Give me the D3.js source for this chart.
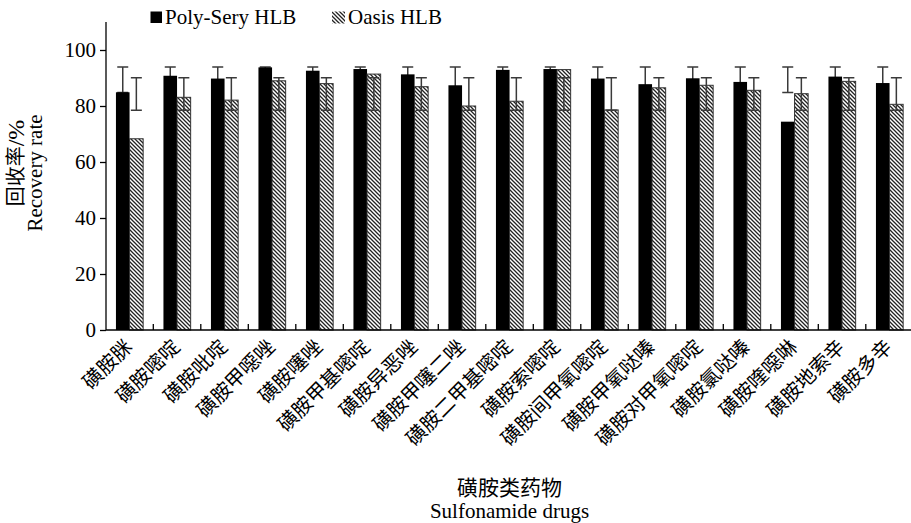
<!DOCTYPE html>
<html>
<head>
<meta charset="utf-8">
<script src="https://cdn.jsdelivr.net/npm/d3@7"></script>
<style>
  html, body { margin: 0; padding: 0; background: #fff; }
  svg { display: block; }
</style>
</head>
<body>
<svg id="chart" width="911" height="523"></svg>
<script>
// ---- data ----
const categories = ["磺胺脒","磺胺嘧啶","磺胺吡啶","磺胺甲噁唑","磺胺噻唑","磺胺甲基嘧啶","磺胺异恶唑","磺胺甲噻二唑","磺胺二甲基嘧啶","磺胺索嘧啶","磺胺间甲氧嘧啶","磺胺甲氧哒嗪","磺胺对甲氧嘧啶","磺胺氯哒嗪","磺胺喹噁啉","磺胺地索辛","磺胺多辛"];
const polySery = [84.9, 90.8, 89.8, 93.8, 92.6, 93.2, 91.3, 87.4, 92.9, 93.2, 89.8, 87.8, 89.9, 88.6, 74.4, 90.5, 88.2];
const oasis    = [68.3, 83.1, 82.1, 89.0, 88.0, 91.4, 86.9, 80.0, 81.7, 93.0, 78.6, 86.5, 87.4, 85.6, 84.4, 88.8, 80.6];
const polyErrLow  = [84.8, 84.8, 84.8, 84.8, 84.8, 84.8, 84.8, 84.8, 84.8, 84.8, 84.8, 84.8, 84.8, 84.8, 84.8, 84.8, 84.8];
const polyErrHigh = [93.9, 93.9, 93.9, 93.9, 93.9, 93.9, 93.9, 93.9, 93.9, 93.9, 93.9, 93.9, 93.9, 93.9, 93.9, 93.9, 93.9];
const oasisErrLow  = [78.5, 78.5, 78.5, 78.5, 78.5, 78.5, 78.5, 78.5, 78.5, 78.5, 78.5, 78.5, 78.5, 78.5, 78.5, 78.5, 78.5];
const oasisErrHigh = [90.1, 90.1, 90.1, 90.1, 90.1, 90.1, 90.1, 90.1, 90.1, 90.1, 90.1, 90.1, 90.1, 90.1, 90.1, 90.1, 90.1];
const yTicks = [0, 20, 40, 60, 80, 100];
const seriesNames = ["Poly-Sery HLB", "Oasis HLB"];

// ---- layout ----
const svg = d3.select("#chart");
const serif = "'Liberation Serif', 'Times New Roman', serif";
const cjk = "'Liberation Serif', 'Noto Sans CJK SC', serif";

const x = d3.scaleBand().domain(categories).range([105.8, 913.3]).padding(0);
const y = d3.scaleLinear().domain([0, 110]).range([330, 22]);
const barW = 13.6;

svg.append("rect").attr("width", 911).attr("height", 523).attr("fill", "#fff");

const defs = svg.append("defs");
const pat = defs.append("pattern").attr("id", "hatch")
  .attr("patternUnits", "userSpaceOnUse").attr("width", 4).attr("height", 4);
pat.append("rect").attr("width", 4).attr("height", 4).attr("fill", "#fff");
pat.append("path").attr("d", "M-1,-1 L5,5 M-1,3 L1,5 M3,-1 L5,1")
  .attr("stroke", "#222").attr("stroke-width", 1.3);

const data = categories.map((c, i) => ({
  c, p: polySery[i], o: oasis[i],
  pl: polyErrLow[i], ph: polyErrHigh[i], ol: oasisErrLow[i], oh: oasisErrHigh[i]
}));
const cx = d => x(d.c) + x.bandwidth() / 2;
const capW = 11;

function errBars(sel, xf, lo, hi) {
  const g = sel.append("g").attr("stroke", "#3a3a3a").attr("stroke-width", 1.5).attr("fill", "none");
  g.selectAll("path").data(data).join("path")
    .attr("d", d => {
      const xc = xf(d), y1 = y(lo(d)), y2 = y(hi(d));
      return `M${xc},${y1}V${y2}M${xc - capW/2},${y2}H${xc + capW/2}M${xc - capW/2},${y1}H${xc + capW/2}`;
    });
}

// black error bars behind bars
errBars(svg, d => cx(d) - barW / 2, d => d.pl, d => d.ph);

// bars
svg.append("g").selectAll("rect").data(data).join("rect")
  .attr("x", d => cx(d) - barW).attr("width", barW)
  .attr("y", d => y(d.p)).attr("height", d => y(0) - y(d.p))
  .attr("fill", "#000");
svg.append("g").selectAll("rect").data(data).join("rect")
  .attr("x", d => cx(d)).attr("width", barW)
  .attr("y", d => y(d.o)).attr("height", d => y(0) - y(d.o))
  .attr("fill", "url(#hatch)").attr("stroke", "#333").attr("stroke-width", 1);

// hatched error bars on top
errBars(svg, d => cx(d) + barW / 2, d => d.ol, d => d.oh);

// y axis
const yAxis = svg.append("g").attr("transform", "translate(106,0)")
  .call(d3.axisLeft(y).tickValues(yTicks).tickSize(6).tickPadding(4).tickSizeOuter(0));
yAxis.select(".domain").remove();
yAxis.append("line").attr("x1", 0).attr("x2", 0).attr("y1", 22).attr("y2", 330)
  .attr("stroke", "#000").attr("stroke-width", 1.3);
yAxis.selectAll(".tick line").attr("stroke", "#000").attr("stroke-width", 1.3);
yAxis.selectAll(".tick text").attr("font-family", serif).attr("font-size", 21).attr("fill", "#000");

// x axis
svg.append("line").attr("x1", 106).attr("x2", 911).attr("y1", 330).attr("y2", 330)
  .attr("stroke", "#000").attr("stroke-width", 1.3);
svg.append("g").selectAll("line").data(categories.slice(1)).join("line")
  .attr("x1", d => x(d)).attr("x2", d => x(d))
  .attr("y1", 330).attr("y2", 324)
  .attr("stroke", "#000").attr("stroke-width", 1.3);

svg.append("g").selectAll("text").data(categories).join("text")
  .attr("transform", d => `translate(${x(d) + x.bandwidth() / 2 + 4},348) rotate(-45)`)
  .attr("text-anchor", "end")
  .attr("font-family", cjk).attr("font-size", 20).attr("fill", "#000")
  .text(d => d);

// axis titles
const yt = svg.append("g");
const t1 = yt.append("text").attr("transform", "translate(16,163) rotate(-90)")
  .attr("text-anchor", "middle").attr("dominant-baseline", "central")
  .attr("font-family", cjk).attr("font-size", 20).attr("fill", "#000");
t1.append("tspan").text("回收率");
t1.append("tspan").attr("font-size", 24).text("/%");
yt.append("text").attr("transform", "translate(35,173) rotate(-90)")
  .attr("text-anchor", "middle").attr("dominant-baseline", "central")
  .attr("font-family", serif).attr("font-size", 21).attr("fill", "#000")
  .text("Recovery rate");

svg.append("text").attr("x", 509.5).attr("y", 495).attr("text-anchor", "middle")
  .attr("font-family", cjk).attr("font-size", 21).attr("fill", "#000").text("磺胺类药物");
svg.append("text").attr("x", 509.5).attr("y", 518).attr("text-anchor", "middle")
  .attr("font-family", serif).attr("font-size", 21).attr("fill", "#000").text("Sulfonamide drugs");

// legend
const leg = svg.append("g");
leg.append("rect").attr("x", 150.5).attr("y", 11.5).attr("width", 11.5).attr("height", 11.5).attr("fill", "#000");
leg.append("text").attr("x", 165).attr("y", 23.5).attr("font-family", serif).attr("font-size", 21)
  .attr("fill", "#000").text(seriesNames[0]);
leg.append("rect").attr("x", 332).attr("y", 11.5).attr("width", 13).attr("height", 12).attr("fill", "url(#hatch)");
leg.append("text").attr("x", 348).attr("y", 23.5).attr("font-family", serif).attr("font-size", 21)
  .attr("fill", "#000").text(seriesNames[1]);
</script>
</body>
</html>
